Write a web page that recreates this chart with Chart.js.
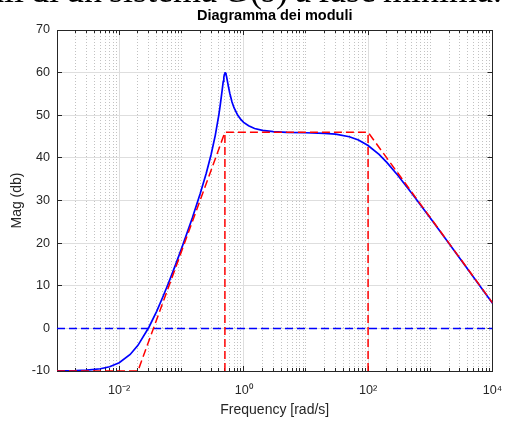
<!DOCTYPE html>
<html><head><meta charset="utf-8">
<script src="https://cdn.jsdelivr.net/npm/chart.js@4.4.0/dist/chart.umd.min.js"></script>
<style>
html,body{margin:0;padding:0;background:#fff;overflow:hidden}
#wrap{position:relative;width:506px;height:421px;overflow:hidden;background:#fff}
#capbox{position:absolute;left:0;top:0;width:506px;height:12px;overflow:hidden}
#cap{position:absolute;left:-12px;top:-28px;white-space:nowrap;word-spacing:-2px;font-family:'Liberation Serif',serif;font-size:36px;line-height:36px;color:#000}
canvas{position:absolute;left:0;top:0}
</style></head><body>
<div id="wrap"><canvas id="c" width="506" height="421"></canvas><div id="capbox"><div id="cap">ali di un sistema <i>G</i>(<i>s</i>) a fase minima.</div></div></div>
<script>
// ---- data ----
const freq = [0.001,0.002,0.003,0.005,0.007,0.01,0.015,0.02,0.03,0.04,0.05,0.06,0.07,0.08,0.1,0.15,0.2,0.25,0.3,0.35,0.4,0.42,0.45,0.47,0.48,0.49,0.5,0.51,0.52,0.53,0.55,0.57,0.6,0.65,0.7,0.8,0.9,1,1.2,1.5,2,3,5,10,20,30,50,70,100,150,200,300,500,1000,2000,5000,10000];
const magDb = [-9.98,-9.91,-9.81,-9.47,-9.0,-8.06,-6.12,-3.98,0.27,4.0,7.3,10.12,12.61,14.83,18.65,25.96,31.56,36.35,40.8,45.28,50.15,52.3,55.74,57.97,58.88,59.56,59.9,59.91,59.63,59.14,57.9,56.68,55.1,53.13,51.77,50.05,49.01,48.34,47.53,46.9,46.47,46.15,45.99,45.9,45.75,45.55,44.95,44.19,42.91,40.8,38.93,35.92,31.77,25.88,19.89,11.94,5.92];
const asymFreq = [0.001, 0.02, 0.5, 100, 10000];
const asymDb = [-10, -10, 46, 46, 6];
const vertFreq = [0.5, 100];
const vertDb = [-10, 46];
const zeroFreq = [0.001, 10000];
const zeroDb = [0, 0];
const yTickVals = [-10, 0, 10, 20, 30, 40, 50, 60, 70];
const xMajorTicks = [0.01, 1, 100, 10000];
const xMajorLabels = ['10\u207B\u00B2', '10\u2070', '10\u00B2', '10\u2074'];
const xMinorMult = [2,3,4,5,6,7,8,9,10];
const xMinorDecades = [0.001, 0.01, 0.1, 1, 10, 100, 1000];
const xMinorTicks = [];
xMinorDecades.forEach(d => xMinorMult.forEach(m => { const v = +(d*m).toPrecision(6); if (!xMajorTicks.includes(v) && v < 10000) xMinorTicks.push(v); }));

const AX = '#262626', GRID = '#dedede', MINOR = '#c2c2c2';
Chart.defaults.font.family = "'Liberation Sans', Arial, sans-serif";
const setTicks = vals => s => { s.ticks = vals.map(v => ({value: v})); };
const fitH = h => s => { s.height = h; s.paddingLeft = 0; s.paddingRight = 0; };
const fitW = w => s => { s.width = w; s.paddingTop = 0; s.paddingBottom = 0; };
const pts = (xs, ys) => xs.map((x, i) => ({x, y: ys[i]}));

const lineDs = (data, color, dash, order, w) => ({type:'line', data, borderColor: color, borderWidth: w || 1.5, borderDash: dash, pointRadius: 0, tension: 0, fill: false, order});

new Chart(document.getElementById('c'), {
  type: 'line',
  data: { datasets: [
    lineDs(pts(asymFreq, asymDb), '#ff0000', [8,4], 0),
    lineDs(pts([vertFreq[0], vertFreq[0]], vertDb), '#ff0000', [8,4], 1),
    lineDs(pts([vertFreq[1], vertFreq[1]], vertDb), '#ff0000', [8,4], 1),
    lineDs(pts(zeroFreq, zeroDb), '#0000ff', [8,4], 3),
    lineDs(pts(freq, magDb), '#0000ff', [], 2, 1.7)
  ]},
  options: {
    responsive: false, animation: false, devicePixelRatio: 1,
    layout: { padding: {left: 0, right: 13.5, top: 0, bottom: 0} },
    plugins: {
      legend: {display: false}, tooltip: {enabled: false},
      title: {display: true, text: 'Diagramma dei moduli', fullSize: false, color: '#000',
        font: {size: 14.5, weight: 'bold'}, padding: {top: 7.3, bottom: 5.3}}
    },
    scales: {
      x: { type: 'logarithmic', position: 'bottom', min: 0.001, max: 10000, weight: 0,
        afterBuildTicks: setTicks(xMajorTicks), afterFit: fitH(50),
        grid: {color: GRID, lineWidth: 1, tickLength: -5, tickColor: AX, tickWidth: 1},
        border: {display: true, color: AX, width: 1},
        ticks: {autoSkip: false, maxRotation: 0, minRotation: 0, padding: 17, color: AX, font: {size: 12.6},
          callback: (v, i) => xMajorLabels[i]},
        title: {display: true, text: 'Frequency [rad/s]', color: AX, font: {size: 14}, padding: {top: 0, bottom: 2.6}}
      },
      xm: { type: 'logarithmic', position: 'bottom', min: 0.001, max: 10000, weight: -1,
        afterBuildTicks: setTicks(xMinorTicks), afterFit: fitH(0),
        grid: {color: MINOR, lineWidth: 1, tickLength: -3, tickColor: AX, tickWidth: 1},
        border: {display: false, dash: [1, 2]},
        ticks: {display: false}
      },
      xt: { type: 'logarithmic', position: 'top', min: 0.001, max: 10000,
        afterBuildTicks: setTicks(xMajorTicks), afterFit: fitH(0),
        grid: {drawOnChartArea: false, tickLength: -5, tickColor: AX, tickWidth: 1},
        border: {display: true, color: AX, width: 1},
        ticks: {display: false}
      },
      xtm: { type: 'logarithmic', position: 'top', min: 0.001, max: 10000,
        afterBuildTicks: setTicks(xMinorTicks), afterFit: fitH(0),
        grid: {drawOnChartArea: false, tickLength: -3, tickColor: AX, tickWidth: 1},
        border: {display: false},
        ticks: {display: false}
      },
      y: { type: 'linear', position: 'left', min: -10, max: 70,
        afterBuildTicks: setTicks(yTickVals), afterFit: fitW(57),
        grid: {color: GRID, lineWidth: 1, tickLength: -5, tickColor: AX, tickWidth: 1},
        border: {display: true, color: AX, width: 1},
        ticks: {padding: 12, color: AX, font: {size: 12.6}},
        title: {display: true, text: 'Mag (db)', color: AX, font: {size: 14}, padding: {top: 8.6, bottom: 0}}
      },
      yr: { type: 'linear', position: 'right', min: -10, max: 70,
        afterBuildTicks: setTicks(yTickVals), afterFit: fitW(0),
        grid: {drawOnChartArea: false, tickLength: -5, tickColor: AX, tickWidth: 1},
        border: {display: true, color: AX, width: 1},
        ticks: {display: false}
      }
    }
  }
});
</script>
</body></html>
